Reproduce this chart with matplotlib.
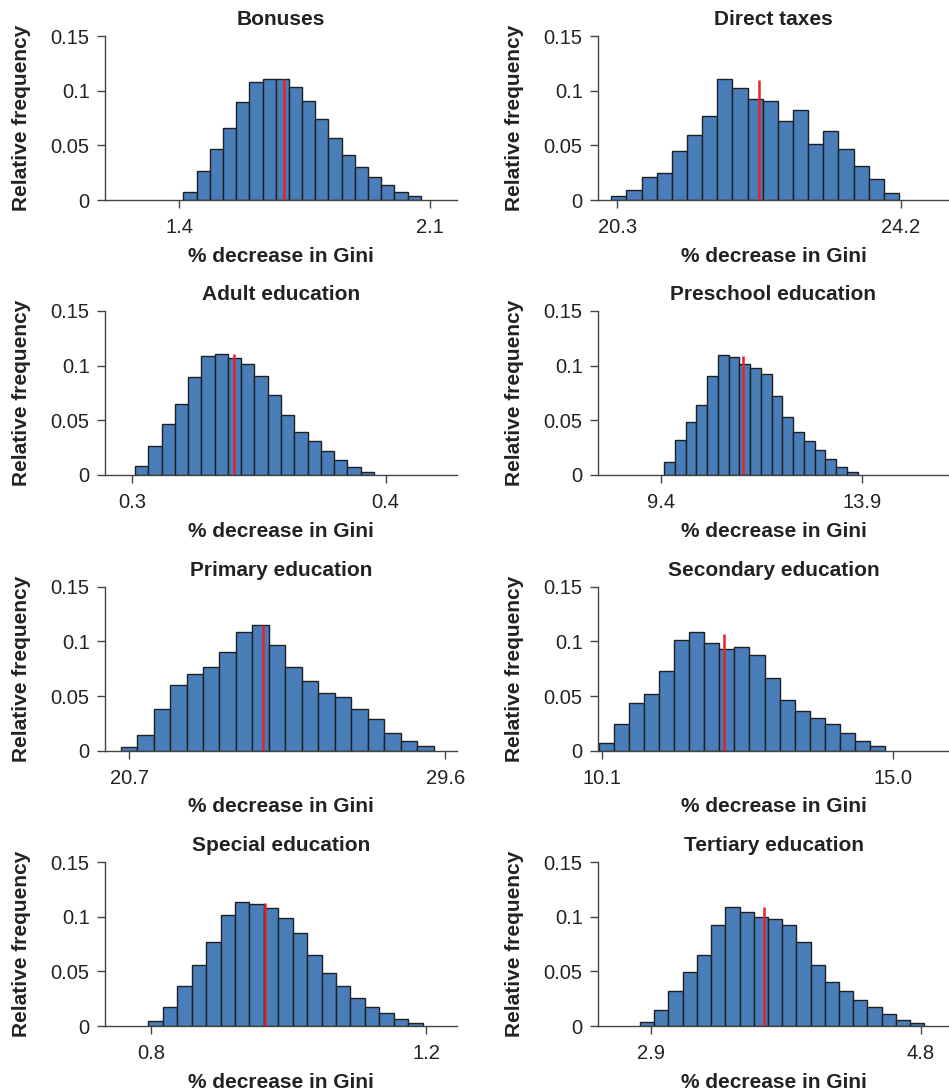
import matplotlib
matplotlib.use("Agg")
import matplotlib.pyplot as plt
import numpy as np

plt.rcParams["font.family"] = ["Liberation Sans", "DejaVu Sans"]

# panel titles (row-major, left then right)
titles = [
    "Bonuses", "Direct taxes",
    "Adult education", "Preschool education",
    "Primary education", "Secondary education",
    "Special education", "Tertiary education",
]

# left edge of the first bin and bin width of each histogram
bin_start = [1.4112, 20.217, 0.30118, 9.46, 20.465, 10.0437, 0.7956, 2.8248]
bin_width = [0.0368, 0.2084, 0.005235, 0.2408, 0.46347, 0.2543, 0.021029, 0.10005]

# relative frequencies of the bins
freq_bonuses = [0.0076, 0.0262, 0.0466, 0.0659, 0.0893, 0.108, 0.111, 0.111, 0.103,
                0.0909, 0.0738, 0.0564, 0.0415, 0.0305, 0.0207, 0.0140, 0.0076, 0.0037]
freq_direct = [0.0037, 0.0088, 0.0213, 0.0250, 0.0451, 0.0595, 0.0765, 0.111, 0.102,
               0.0924, 0.0902, 0.0720, 0.0823, 0.0512, 0.0634, 0.0470, 0.0314, 0.0192, 0.0067]
freq_adult = [0.0085, 0.0268, 0.0470, 0.0646, 0.0899, 0.1088, 0.1104, 0.1067, 0.1012,
              0.0909, 0.0735, 0.0546, 0.0390, 0.0308, 0.0216, 0.0140, 0.0073, 0.0027]
freq_preschool = [0.0116, 0.0323, 0.0488, 0.0643, 0.0909, 0.1095, 0.1076, 0.1012, 0.0982,
                  0.0921, 0.0720, 0.0527, 0.0390, 0.0308, 0.0229, 0.0143, 0.0073, 0.0024]
freq_primary = [0.0036, 0.0143, 0.0383, 0.0598, 0.0701, 0.0768, 0.0902, 0.1090, 0.1151,
                0.0965, 0.0768, 0.0634, 0.0531, 0.0492, 0.0383, 0.0288, 0.0164, 0.0088, 0.0046]
freq_secondary = [0.0067, 0.0240, 0.0440, 0.0522, 0.0726, 0.1011, 0.1084, 0.0981, 0.0929,
                  0.0953, 0.0874, 0.0662, 0.0464, 0.0367, 0.0301, 0.0240, 0.0158, 0.0088, 0.0046]
freq_special = [0.0043, 0.0174, 0.0366, 0.0558, 0.0768, 0.1015, 0.1134, 0.1116, 0.1079,
                0.0985, 0.0854, 0.0649, 0.0485, 0.0366, 0.0256, 0.0174, 0.0116, 0.0061, 0.0027]
freq_tertiary = [0.0040, 0.0143, 0.0320, 0.0491, 0.0652, 0.0921, 0.1091, 0.1043, 0.1000, 0.0976,
                 0.0921, 0.0765, 0.0561, 0.0402, 0.0320, 0.0241, 0.0174, 0.0113, 0.0058, 0.0027]
freqs = [freq_bonuses, freq_direct, freq_adult, freq_preschool,
         freq_primary, freq_secondary, freq_special, freq_tertiary]

# red reference line: x position and height
ref_x = [1.6922, 22.257, 0.34026, 11.239, 24.465, 12.159, 0.96525, 3.6985]
ref_top = [0.111, 0.110, 0.111, 0.1085, 0.1148, 0.1063, 0.1122, 0.1085]

# x tick labels and axis limits
xtick_lo = ["1.4", "20.3", "0.3", "9.4", "20.7", "10.1", "0.8", "2.9"]
xtick_hi = ["2.1", "24.2", "0.4", "13.9", "29.6", "15.0", "1.2", "4.8"]
x_min = [1.1926, 20.034, 0.28934, 7.98, 20.024, 10.0325, 0.73245, 2.529]
x_max = [2.1745, 24.866, 0.42816, 15.844, 29.929, 15.951, 1.2452, 4.9996]

y_ticks = [0, 0.05, 0.1, 0.15]
y_ticklabels = ["0", "0.05", "0.1", "0.15"]

W, H = 949, 1090
fig = plt.figure(figsize=(W / 100, H / 100), dpi=100)

col_left = [105, 598]
col_width = [352, 351]
row_top = [36, 311, 586.7, 862]
ax_h = 164

BAR_COLOR = "#4A7EBB"
EDGE_COLOR = "#1f1f1f"
AXIS_COLOR = "#444444"
TEXT_COLOR = "#222222"

for i, title in enumerate(titles):
    r, c = divmod(i, 2)
    ax = fig.add_axes([
        col_left[c] / W,
        1 - (row_top[r] + ax_h) / H,
        col_width[c] / W,
        ax_h / H,
    ])
    heights = np.array(freqs[i])
    lefts = bin_start[i] + bin_width[i] * np.arange(len(heights))
    ax.bar(lefts, heights, width=bin_width[i], align="edge",
           color=BAR_COLOR, edgecolor=EDGE_COLOR, linewidth=1.0, zorder=2)
    ax.plot([ref_x[i], ref_x[i]], [0, ref_top[i]], color="#E8202A",
            linewidth=1.8, zorder=3, solid_capstyle="butt")

    ax.set_xlim(x_min[i], x_max[i])
    ax.set_ylim(0, 0.15)
    ax.set_xticks([float(xtick_lo[i]), float(xtick_hi[i])])
    ax.set_xticklabels([xtick_lo[i], xtick_hi[i]])
    ax.set_yticks(y_ticks)
    ax.set_yticklabels(y_ticklabels)

    for side in ["top", "right"]:
        ax.spines[side].set_visible(False)
    for side in ["left", "bottom"]:
        ax.spines[side].set_color(AXIS_COLOR)
        ax.spines[side].set_linewidth(1.0)
    ax.tick_params(axis="both", direction="out", length=6, width=1.0,
                   color=AXIS_COLOR, labelsize=14.5, labelcolor=TEXT_COLOR)
    ax.tick_params(axis="x", pad=7)
    ax.tick_params(axis="y", pad=5)

    ax.set_title(title, fontsize=15, fontweight="bold", color=TEXT_COLOR, pad=8)
    ax.set_xlabel("% decrease in Gini", fontsize=15, fontweight="bold",
                  color=TEXT_COLOR, labelpad=7)
    ax.set_ylabel("Relative frequency", fontsize=15, fontweight="bold",
                  color=TEXT_COLOR, labelpad=14)

fig.savefig("out.png", dpi=100)
